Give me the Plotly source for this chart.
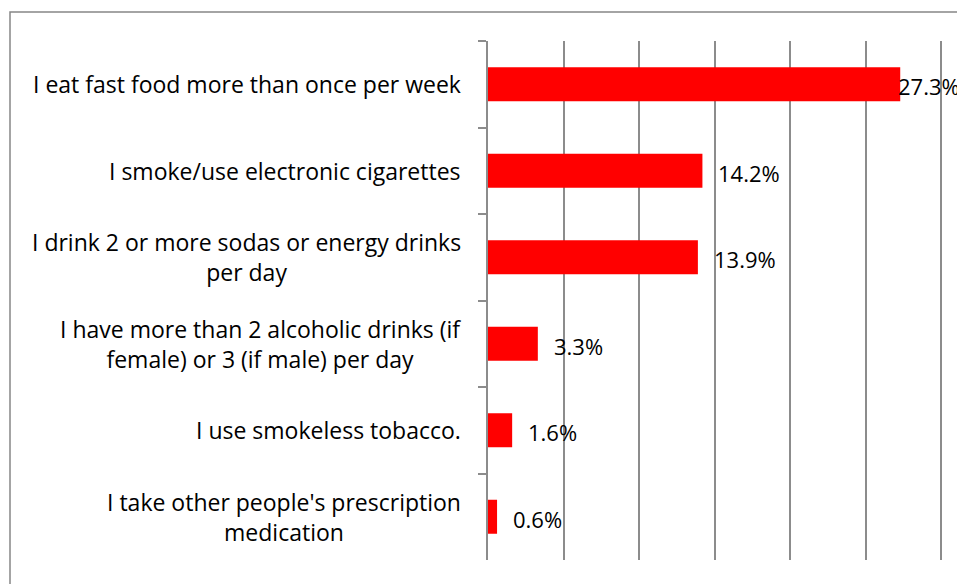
import plotly.graph_objects as go

categories = [
    "I eat fast food more than once per week",
    "I smoke/use electronic cigarettes",
    "I drink 2 or more sodas or energy drinks<br>per day",
    "I have more than 2 alcoholic drinks (if<br>female) or 3 (if male) per day",
    "I use smokeless tobacco.",
    "I take other people's prescription<br>medication",
]
values = [27.3, 14.2, 13.9, 3.3, 1.6, 0.6]
value_labels = ["27.3%", "14.2%", "13.9%", "3.3%", "1.6%", "0.6%"]

FONT = "Open Sans"
FS = 23
W, H = 957, 584
L, R, T, B = 488, 0, 41, 24
plot_w = W - L - R
plot_h = H - T - B

fig = go.Figure()
fig.add_trace(go.Bar(
    x=values, y=categories, orientation="h",
    marker=dict(color="#FF0000", line=dict(width=0)),
    hoverinfo="skip",
))

# value labels
for i, (v, lab) in enumerate(zip(values, value_labels)):
    fig.add_annotation(
        x=v, y=categories[i], xref="x", yref="y",
        text=lab, showarrow=False, xanchor="left", yanchor="middle",
        xshift=(-4 if i == 0 else 14), yshift=-2,
        font=dict(family=FONT, size=FS - 1, color="#000000"),
    )

# category labels (centered lines, right edge near the axis)
for c in categories:
    fig.add_annotation(
        x=(463 - L) / plot_w, y=c, xref="paper", yref="y",
        text=c, showarrow=False, xanchor="right", yanchor="middle",
        align="center",
        font=dict(family=FONT, size=FS, color="#000000"),
    )

# outer chart border (gray frame, cropped at right and bottom)
fig.add_shape(
    type="rect", xref="paper", yref="paper",
    x0=(10 - L) / plot_w, x1=(W + 20 - L) / plot_w,
    y0=-(B + 20) / plot_h, y1=1 + (T - 12) / plot_h,
    line=dict(color="#868686", width=1.5), fillcolor="rgba(0,0,0,0)", layer="below",
)

fig.update_layout(
    width=W, height=H,
    margin=dict(l=L, r=R, t=T, b=B, pad=0),
    paper_bgcolor="white", plot_bgcolor="white",
    showlegend=False,
    bargap=0.607,
    font=dict(family=FONT, size=FS, color="#000000"),
    xaxis=dict(
        range=[0, (W - L) / 15.1], dtick=5, tick0=0,
        showgrid=True, gridcolor="#8c8c8c", gridwidth=1.5,
        showticklabels=False, ticks="", zeroline=False, showline=False,
        fixedrange=True,
    ),
    yaxis=dict(
        autorange="reversed",
        showline=True, linecolor="#8c8c8c", linewidth=1.5,
        ticks="outside", tickson="boundaries", ticklen=8,
        tickcolor="#8c8c8c", tickwidth=1.5,
        showticklabels=False,
        showgrid=False, zeroline=False,
        fixedrange=True,
    ),
)

fig.write_html("out.html")
